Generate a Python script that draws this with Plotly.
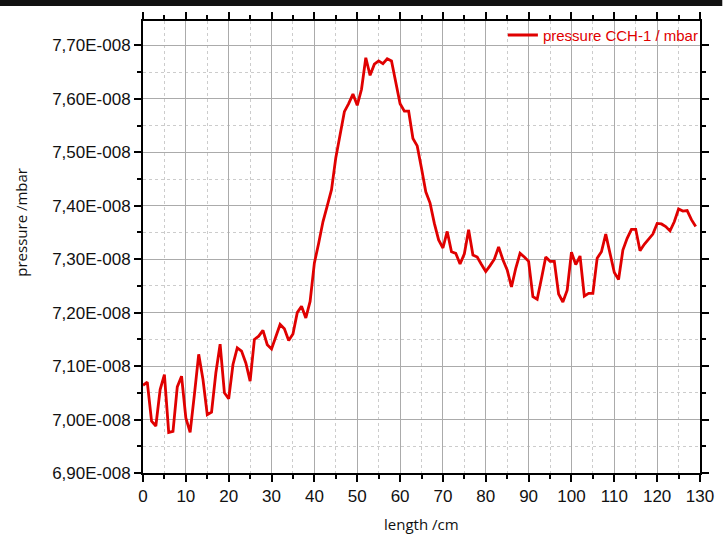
import plotly.graph_objects as go

# Pressure profile along the chamber, one reading per centimetre
length_cm = list(range(0, 130))
pressure_e8 = [
    7.064, 7.070, 6.997, 6.988, 7.056, 7.084, 6.976, 6.978, 7.061, 7.081,
    7.003, 6.976, 7.047, 7.122, 7.075, 7.009, 7.014, 7.087, 7.141, 7.050,
    7.039, 7.103, 7.134, 7.128, 7.106, 7.072, 7.150, 7.156, 7.167, 7.140,
    7.132, 7.155, 7.178, 7.170, 7.148, 7.160, 7.200, 7.212, 7.190, 7.221,
    7.293, 7.330, 7.370, 7.400, 7.430, 7.490, 7.532, 7.576, 7.591, 7.609,
    7.588, 7.618, 7.677, 7.644, 7.665, 7.671, 7.666, 7.675, 7.671, 7.628,
    7.591, 7.577, 7.577, 7.526, 7.512, 7.470, 7.426, 7.405, 7.367, 7.336,
    7.321, 7.352, 7.314, 7.311, 7.291, 7.310, 7.355, 7.308, 7.304, 7.290,
    7.277, 7.288, 7.300, 7.323, 7.299, 7.280, 7.248, 7.283, 7.311, 7.304,
    7.296, 7.230, 7.225, 7.264, 7.304, 7.296, 7.296, 7.235, 7.220, 7.242,
    7.313, 7.290, 7.306, 7.231, 7.236, 7.236, 7.302, 7.314, 7.347, 7.311,
    7.275, 7.262, 7.317, 7.339, 7.356, 7.356, 7.316, 7.328, 7.337, 7.347,
    7.367, 7.366, 7.361, 7.353, 7.370, 7.394, 7.390, 7.391, 7.374, 7.361,
]
pressure_mbar = [v * 1e-8 for v in pressure_e8]

y_tick_vals = [6.9e-8, 7.0e-8, 7.1e-8, 7.2e-8, 7.3e-8, 7.4e-8, 7.5e-8, 7.6e-8, 7.7e-8]
y_tick_text = ["6,90E-008", "7,00E-008", "7,10E-008", "7,20E-008", "7,30E-008",
               "7,40E-008", "7,50E-008", "7,60E-008", "7,70E-008"]
y_minor_vals = [6.95e-8, 7.05e-8, 7.15e-8, 7.25e-8, 7.35e-8, 7.45e-8, 7.55e-8, 7.65e-8]
x_tick_vals = list(range(0, 131, 10))

RED = "#e00000"
TICK_FONT = dict(family="Liberation Sans, Arial, sans-serif", size=17, color="#111111")
TITLE_FONT = dict(family="Open Sans, sans-serif", size=15, color="#111111")

fig = go.Figure()
fig.add_trace(go.Scatter(
    x=length_cm, y=pressure_mbar, mode="lines",
    name="pressure CCH-1 / mbar",
    line=dict(color=RED, width=2.8),
))

axis_common = dict(
    showline=True, linecolor="black", linewidth=2, mirror="ticks",
    ticks="outside", ticklen=7, tickwidth=1.5, tickcolor="black",
    showgrid=True, gridcolor="#ababab", gridwidth=1,
    zeroline=False, tickfont=TICK_FONT,
)

fig.update_xaxes(
    range=[0, 130], tickmode="array", tickvals=x_tick_vals,
    minor=dict(tickmode="linear", tick0=5, dtick=10, ticks="outside", ticklen=4,
               tickcolor="black", showgrid=True, gridcolor="#cccccc", griddash="3px,3px"),
    **axis_common,
)
fig.update_yaxes(
    range=[6.9e-8, 7.7457e-8], tickmode="array", tickvals=y_tick_vals, ticktext=y_tick_text,
    minor=dict(tickmode="array", tickvals=y_minor_vals, ticks="outside", ticklen=4,
               tickcolor="black", showgrid=True, gridcolor="#cccccc", griddash="3px,3px"),
    **axis_common,
)

fig.update_layout(
    width=726, height=539,
    margin=dict(l=143, r=18, t=20, b=66),
    paper_bgcolor="white", plot_bgcolor="white",
    showlegend=True,
    legend=dict(x=1.007, y=1.005, xanchor="right", yanchor="top",
                bgcolor="rgba(0,0,0,0)", font=dict(family="Liberation Sans, Arial, sans-serif",
                                                    size=15, color=RED)),
    annotations=[
        dict(text="length /cm", xref="paper", yref="paper", x=0.5, y=-0.112,
             xanchor="center", yanchor="middle", showarrow=False, font=TITLE_FONT),
        dict(text="pressure /mbar", xref="paper", yref="paper", x=-0.218, y=0.555,
             xanchor="center", yanchor="middle", textangle=-90, showarrow=False,
             font=TITLE_FONT),
    ],
    shapes=[
        dict(type="rect", xref="paper", yref="paper", x0=-0.26, x1=1.04,
             y0=1.033, y1=1.05, fillcolor="#111111", line=dict(width=0), layer="above"),
    ],
)

fig.write_html("out.html")
